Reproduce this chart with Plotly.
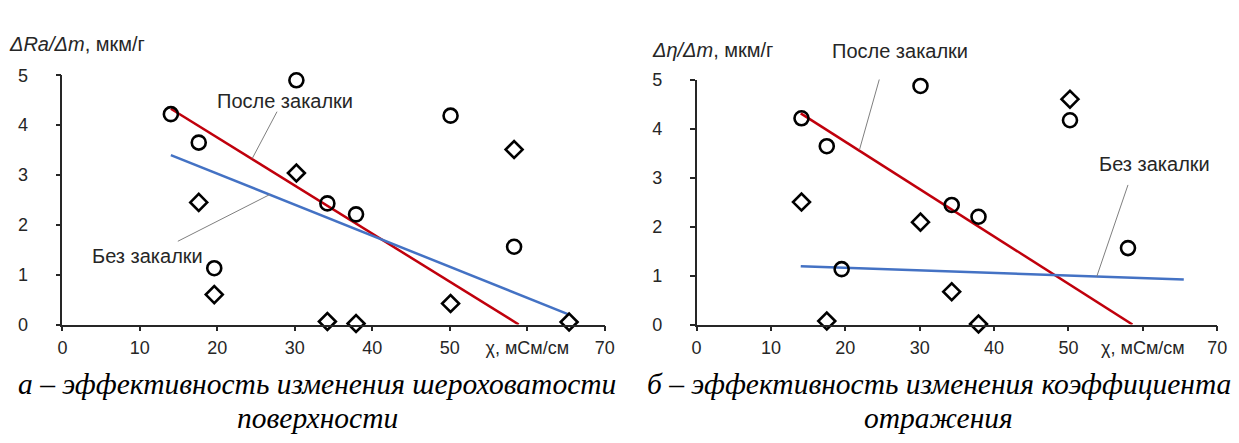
import plotly.graph_objects as go

# ---- data ----
# Panel a: roughness
a_after_x = [14.0, 17.6, 19.6, 30.2, 34.2, 37.9, 50.1, 58.3]
a_after_y = [4.22, 3.65, 1.13, 4.90, 2.43, 2.21, 4.19, 1.56]
a_before_x = [17.6, 19.6, 30.2, 34.2, 37.9, 50.1, 58.3, 65.4]
a_before_y = [2.45, 0.60, 3.04, 0.06, 0.02, 0.42, 3.51, 0.05]
a_trend_after_x = [14.0, 58.9]
a_trend_after_y = [4.33, 0.0]
a_trend_before_x = [14.0, 65.4]
a_trend_before_y = [3.40, 0.20]

# Panel b: reflection coefficient
b_after_x = [14.1, 17.5, 19.5, 30.1, 34.3, 37.9, 50.2, 58.0]
b_after_y = [4.21, 3.64, 1.13, 4.87, 2.44, 2.20, 4.17, 1.56]
b_before_x = [14.1, 17.5, 30.1, 34.3, 37.9, 50.2]
b_before_y = [2.50, 0.07, 2.09, 0.67, 0.01, 4.60]
b_trend_after_x = [14.0, 58.6]
b_trend_after_y = [4.31, 0.0]
b_trend_before_x = [14.0, 65.5]
b_trend_before_y = [1.19, 0.92]

x_ticks = [0, 10, 20, 30, 40, 50, 60, 70]
x_ticktext = ["0", "10", "20", "30", "40", "50", "χ,\u00a0мСм/см", "70"]
y_ticks = [0, 1, 2, 3, 4, 5]

RED = "#C0000C"
BLUE = "#4472C4"
AX = "#262626"
SANS = "Liberation Sans, Arial"
SERIF = "Liberation Serif, Times New Roman, serif"

fig = go.Figure()

def add_panel(xa, ya, ax_, ay_, bx_, by_, tax, tay, tbx, tby):
    fig.add_trace(go.Scatter(x=tax, y=tay, mode="lines", line=dict(color=RED, width=2.5),
                             xaxis=xa, yaxis=ya, showlegend=False, hoverinfo="skip"))
    fig.add_trace(go.Scatter(x=tbx, y=tby, mode="lines", line=dict(color=BLUE, width=2.5),
                             xaxis=xa, yaxis=ya, showlegend=False, hoverinfo="skip"))
    fig.add_trace(go.Scatter(x=ax_, y=ay_, mode="markers", cliponaxis=False,
                             marker=dict(symbol="circle-open", size=14, color="black", line=dict(width=2.6)),
                             xaxis=xa, yaxis=ya, showlegend=False))
    fig.add_trace(go.Scatter(x=bx_, y=by_, mode="markers", cliponaxis=False,
                             marker=dict(symbol="diamond-open", size=13, color="black", line=dict(width=2.6)),
                             xaxis=xa, yaxis=ya, showlegend=False))

add_panel("x", "y", a_after_x, a_after_y, a_before_x, a_before_y,
          a_trend_after_x, a_trend_after_y, a_trend_before_x, a_trend_before_y)
add_panel("x2", "y2", b_after_x, b_after_y, b_before_x, b_before_y,
          b_trend_after_x, b_trend_after_y, b_trend_before_x, b_trend_before_y)

xcommon = dict(range=[0, 70], tickvals=x_ticks, ticktext=x_ticktext, showgrid=False, zeroline=False,
               showline=True, linecolor=AX, linewidth=1.6, ticks="outside", ticklen=5, tickwidth=1.6,
               tickcolor=AX, tickfont=dict(family=SANS, size=18, color=AX), ticklabelstandoff=1,
               fixedrange=True)
ycommon = dict(range=[0, 5], tickvals=y_ticks, showgrid=False, zeroline=False,
               showline=True, linecolor=AX, linewidth=1.6, ticks="outside", ticklen=5, tickwidth=1.6,
               tickcolor=AX, tickfont=dict(family=SANS, size=18, color=AX), ticklabelstandoff=24,
               fixedrange=True)

W, H = 1239, 443
fig.update_layout(
    width=W, height=H, margin=dict(l=0, r=0, t=0, b=0),
    paper_bgcolor="white", plot_bgcolor="white", showlegend=False,
    xaxis=dict(domain=[50 / W, 599 / W], anchor="y", **xcommon),
    yaxis=dict(domain=[(H - 321) / H, (H - 60) / H], anchor="x", **ycommon),
    xaxis2=dict(domain=[692 / W, 1219 / W], anchor="y2", **xcommon),
    yaxis2=dict(domain=[(H - 321) / H, (H - 64.5) / H], anchor="x2", **ycommon),
)

lab_font = dict(family=SANS, size=20, color=AX)
# leader lines (data coordinates)
shapes = [
    dict(type="line", xref="x", yref="y", x0=27.7, y0=4.27, x1=24.5, y1=3.33, line=dict(color="#7f7f7f", width=1)),
    dict(type="line", xref="x", yref="y", x0=14.9, y0=1.67, x1=26.8, y1=2.61, line=dict(color="#7f7f7f", width=1)),
    dict(type="line", xref="x2", yref="y2", x0=25.0, y0=5.24, x1=21.9, y1=3.57, line=dict(color="#7f7f7f", width=1)),
    dict(type="line", xref="x2", yref="y2", x0=58.0, y0=2.85, x1=53.8, y1=0.98, line=dict(color="#7f7f7f", width=1)),
]

def pann(text, px, py, font, xanchor="center"):
    return dict(text=text, xref="paper", yref="paper", x=px / W, y=(H - py) / H,
                xanchor=xanchor, yanchor="middle", showarrow=False, font=font)

ann = [
    pann("После закалки", 275, 87, lab_font),
    pann("Без закалки", 136, 249, lab_font),
    pann("После закалки", 898, 35, lab_font),
    pann("Без закалки", 1155, 153, lab_font),
    pann("<i>ΔRa/Δm</i>, мкм/г", -6, 27, dict(family=SANS, size=20, color=AX), xanchor="left"),
    pann("<i>Δη/Δm</i>, мкм/г", 645, 33, dict(family=SANS, size=20, color=AX), xanchor="left"),
]
cap_font = dict(family=SERIF, size=29.5, color="black")
ann += [
    pann("<i>а – эффективность изменения шероховатости</i>", 308, 383, cap_font),
    pann("<i>поверхности</i>", 308, 419, cap_font),
    pann("<i>б – эффективность изменения коэффициента</i>", 937, 383, cap_font),
    pann("<i>отражения</i>", 937, 419, cap_font),
]
fig.update_layout(annotations=ann, shapes=shapes)

fig.write_html("out.html")
